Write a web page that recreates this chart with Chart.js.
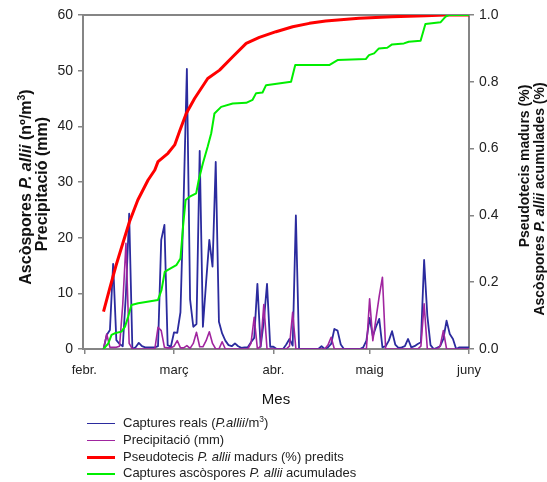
<!DOCTYPE html>
<html><head><meta charset="utf-8">
<script src="https://cdn.jsdelivr.net/npm/chart.js@4/dist/chart.umd.min.js"></script>
<style>
html,body{margin:0;padding:0;background:#fff;}
#wrap{position:relative;width:547px;height:482px;overflow:hidden;font-family:"Liberation Sans",Arial,sans-serif;background:#fff;}
canvas{position:absolute;left:0;top:0;}
.yt{position:absolute;white-space:nowrap;font-weight:bold;color:#111;transform:translate(-50%,-50%) rotate(-90deg);line-height:1;}
.yt sup,.leg sup{font-size:0.65em;line-height:0;vertical-align:0.55em;}
.leg{position:absolute;left:87px;height:16px;line-height:16px;font-size:13px;color:#222;white-space:nowrap;}
.leg .l{display:inline-block;width:28px;vertical-align:middle;margin-right:8px;}
</style></head>
<body><div id="wrap"><canvas id="c" width="547" height="482"></canvas>
<div class="yt" style="left:26px;top:187px;font-size:16px;">Ascòspores <i>P. allii</i> (nº/m<sup>3</sup>)</div>
<div class="yt" style="left:42px;top:184px;font-size:16px;">Precipitació (mm)</div>
<div class="yt" style="left:524px;top:166px;font-size:14px;">Pseudotecis madurs (%)</div>
<div class="yt" style="left:539px;top:199px;font-size:14px;">Ascòspores <i>P. allii</i> acumulades (%)</div>
<div id="legend"></div>
</div>
<script>
// Month axis (day index from 1 Feb)
const monthDays = [0, 28, 59, 89, 120];
const monthLabels = ['febr.', 'març', 'abr.', 'maig', 'juny'];

// Daily series start on day 6
const firstDay = 6;
const captures = [
  0, 2.5, 3.4, 15.3, 1.6, 0.9, 0.5, 10, 24.3, 0,
  0.3, 1.1, 0.5, 0.3, 0.3, 0.3, 0.3, 0.5, 19.6, 22.3,
  0.7, 0.4, 3, 2.9, 6.6, 27, 50.3, 8.9, 4, 4.5,
  35.6, 4, 12, 19.6, 14.8, 33.6, 4.9, 2.8, 1.5, 0.7,
  0.5, 1.0, 0.5, 0.2, 0.3, 0.3, 1.2, 2, 11.7, 0.4,
  5, 11.7, 0.4, 0.4, 0, 0, 0, 0.8, 1.8, 0.6,
  24, 0, 0, 0, 0, 0, 0, 0, 0.5, 0,
  0.3, 0.9, 3.6, 3.3, 0.8, 0, 0, 0, 0, 0,
  0, 0.3, 1.5, 5.6, 2.3, 4.0, 5.4, 0.3, 0.5, 1.5,
  3.2, 0.8, 0.2, 0.3, 0.5, 1.8, 0.3, 0.5, 0.9, 1.2,
  16, 6, 0.7, 0, 0.2, 0.5, 1.8, 5.1, 2.7, 1.8,
  0, 0.3, 0.3, 0.3, 0.3
];
const rain = [
  0, 2.7, 0.3, 0.3, 0.3, 0.5, 8, 19, 1, 0,
  0, 0, 0, 0, 0, 0, 0, 3.9, 3.3, 0.3,
  0.2, 0.2, 0.5, 1.5, 0.2, 0.2, 0.6, 0.1, 1, 3,
  0.4, 0.4, 1.5, 3.1, 1, 0, 0, 1.3, 0, 0,
  0, 0, 0, 0, 0, 0, 1, 5.7, 0, 0.5,
  8, 0, 0, 0, 0, 0, 0, 0, 0.5, 6.6,
  0, 0, 0, 0, 0, 0, 0, 0, 0, 0,
  0.7, 2.1, 0, 0, 0, 0, 0, 0, 0, 0,
  0, 0, 0, 9, 1.5, 5.5, 9.5, 12.9, 0, 0,
  0, 0, 0, 0, 0, 0, 0, 0, 0, 0.5,
  8.1, 0, 0, 0, 0, 0.5, 3.3, 0, 0, 0,
  0, 0, 0, 0, 0
];

// Predicted mature pseudothecia (fraction)
const matureDays = [6.0, 7.9, 9.9, 12.0, 14.1, 16.7, 19.9, 22, 23, 26.1, 28.2, 29.7, 31.8, 34.4, 38.5, 42.2, 46.3, 50.5, 54.6, 59.8, 65, 70.2, 75.3, 85.7, 96, 106.4, 112.6, 120];
const matureValues = [0.112, 0.18, 0.25, 0.316, 0.381, 0.446, 0.506, 0.536, 0.561, 0.586, 0.611, 0.651, 0.705, 0.75, 0.81, 0.835, 0.875, 0.915, 0.933, 0.95, 0.965, 0.975, 0.982, 0.99, 0.995, 0.998, 1.0, 1.0];

// Cumulative ascospore captures (fraction)
const cumDays = [6, 7.5, 8.5, 9.5, 11.6, 12.7, 13.7, 14.7, 16.8, 23, 24.1, 25.1, 26.1, 28.7, 30, 30.8, 31.6, 32.9, 34.9, 35.7, 37, 38.5, 39.6, 40.6, 42.7, 46.3, 50.5, 52.5, 53.6, 55.6, 56.7, 64.5, 65.8, 76.4, 79, 87.8, 88.8, 90.4, 91.9, 94.5, 96, 99.7, 101.2, 104.9, 106.4, 111.1, 112.7, 113.7, 120];
const cumValues = [0, 0.017, 0.042, 0.047, 0.052, 0.067, 0.097, 0.132, 0.137, 0.147, 0.177, 0.231, 0.237, 0.251, 0.271, 0.366, 0.446, 0.456, 0.466, 0.506, 0.556, 0.606, 0.646, 0.705, 0.725, 0.735, 0.737, 0.746, 0.766, 0.768, 0.79, 0.8, 0.85, 0.85, 0.865, 0.868, 0.88, 0.885, 0.9, 0.902, 0.912, 0.915, 0.92, 0.923, 0.973, 0.978, 0.995, 1.0, 1.0];

const leftTicks = [0, 10, 20, 30, 40, 50, 60];
const rightTicks = [0, 0.2, 0.4, 0.6, 0.8, 1.0];

const seriesInfo = [
  {label: 'Captures reals (<i>P.allii</i>/m<sup>3</sup>)', color: '#2b2b9e', width: 1.8},
  {label: 'Precipitació (mm)', color: '#a0259f', width: 1.6},
  {label: 'Pseudotecis <i>P. allii</i> madurs (%) predits', color: '#ff0000', width: 3},
  {label: 'Captures ascòspores <i>P. allii</i> acumulades', color: '#00ee00', width: 2}
];

const FAM = '"Liberation Sans", Arial, sans-serif';
const AX = '#858585';

const daily = (arr) => arr.map((v, i) => ({x: firstDay + i, y: v}));
const paired = (xs, ys) => xs.map((x, i) => ({x: x, y: ys[i]}));

const frameTop = {
  id: 'frameTop',
  beforeDatasetsDraw(c) {
    const {ctx, chartArea: a} = c;
    ctx.save();
    ctx.strokeStyle = AX; ctx.lineWidth = 2;
    ctx.beginPath(); ctx.moveTo(a.left, a.top); ctx.lineTo(a.right, a.top); ctx.stroke();
    ctx.restore();
  }
};

const chart = new Chart(document.getElementById('c'), {
  type: 'line',
  data: {
    datasets: [
      {label: 'Captures reals', data: daily(captures), yAxisID: 'y', borderColor: seriesInfo[0].color, borderWidth: seriesInfo[0].width, order: 4},
      {label: 'Precipitació', data: daily(rain), yAxisID: 'y', borderColor: seriesInfo[1].color, borderWidth: seriesInfo[1].width, order: 3},
      {label: 'Pseudotecis', data: paired(matureDays, matureValues), yAxisID: 'y1', borderColor: seriesInfo[2].color, borderWidth: seriesInfo[2].width, order: 2},
      {label: 'Acumulades', data: paired(cumDays, cumValues), yAxisID: 'y1', borderColor: seriesInfo[3].color, borderWidth: seriesInfo[3].width, order: 1}
    ]
  },
  options: {
    responsive: false, animation: false, devicePixelRatio: 1,
    parsing: false,
    elements: {point: {radius: 0}, line: {tension: 0, fill: false, borderJoinStyle: 'round'}},
    layout: {padding: {top: 15, left: 0, right: 0, bottom: 0}},
    plugins: {legend: {display: false}, tooltip: {enabled: false}},
    scales: {
      x: {
        type: 'linear', position: 'bottom', min: -0.4, max: 120,
        afterBuildTicks: s => { s.ticks = monthDays.map(v => ({value: v})); },
        afterFit: s => { s.height = 133; },
        ticks: {
          autoSkip: false, maxRotation: 0, padding: 9, color: '#222',
          font: {family: FAM, size: 13},
          callback: v => { const k = monthDays.indexOf(v); return k >= 0 ? monthLabels[k] : ''; }
        },
        grid: {drawOnChartArea: false, tickLength: 5, color: AX, lineWidth: 1.5},
        border: {color: AX, width: 2},
        title: {display: true, text: 'Mes', color: '#111', font: {family: FAM, size: 15}, padding: {top: 0, bottom: 73}}
      },
      y: {
        position: 'left', min: 0, max: 60,
        afterBuildTicks: s => { s.ticks = leftTicks.map(v => ({value: v})); },
        afterFit: s => { s.width = 83; },
        ticks: {padding: 5, color: '#222', font: {family: FAM, size: 14}},
        grid: {drawOnChartArea: false, tickLength: 5, color: AX, lineWidth: 1.5},
        border: {color: AX, width: 2}
      },
      y1: {
        position: 'right', min: 0, max: 1,
        afterBuildTicks: s => { s.ticks = rightTicks.map(v => ({value: v})); },
        afterFit: s => { s.width = 78; },
        ticks: {padding: 5, color: '#222', font: {family: FAM, size: 14}, callback: v => Number(v).toFixed(1)},
        grid: {drawOnChartArea: false, tickLength: 5, color: AX, lineWidth: 1.5},
        border: {color: AX, width: 2}
      }
    }
  },
  plugins: [frameTop]
});

// HTML legend built from the series info
const legendY = [423, 440, 456.5, 473];
const lg = document.getElementById('legend');
seriesInfo.forEach((s, i) => {
  const d = document.createElement('div');
  d.className = 'leg';
  d.style.top = (legendY[i] - 8) + 'px';
  d.innerHTML = '<span class="l" style="border-top:' + s.width + 'px solid ' + s.color + '"></span>' + s.label;
  lg.appendChild(d);
});
</script>
</body></html>
